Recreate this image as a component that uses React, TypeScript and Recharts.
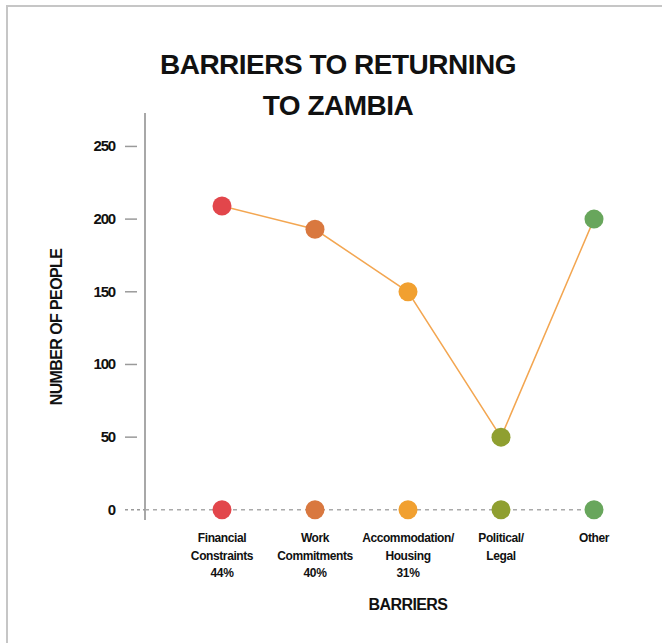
import { LineChart, Line, XAxis, YAxis, ReferenceLine } from "recharts";

const categories = ["Financial", "Work", "Accommodation/", "Political/", "Other"];
const subLabels = ["Constraints", "Commitments", "Housing", "Legal", ""];
const shares = ["44%", "40%", "31%", "", ""];
const people = [209, 193, 150, 50, 200];
const baseline = [0, 0, 0, 0, 0];
const dotColors = ["#e2464b", "#d9783f", "#f1a030", "#8f9f30", "#68a65c"];
const yTicks = [0, 50, 100, 150, 200, 250];

const data = categories.map((c, i) => ({
  name: c,
  people: people[i],
  base: baseline[i],
}));

const font = "'Liberation Sans', Arial, sans-serif";

function ColorDot(props: any) {
  const { cx, cy, index } = props;
  if (cx == null || cy == null) return null;
  return <circle key={index} cx={cx} cy={cy} r={9.5} fill={dotColors[index]} />;
}

function YTick(props: any) {
  const { x, y, payload } = props;
  const isZero = payload.value === 0;
  return (
    <g>
      <line
        x1={x - 20}
        x2={isZero ? x : x - 8}
        y1={y}
        y2={y}
        stroke="#9a9a9a"
        strokeWidth={1.5}
        strokeDasharray={isZero ? "3 3" : undefined}
      />
      <text
        x={x - 30}
        y={y}
        dy={5}
        textAnchor="end"
        fontFamily={font}
        fontWeight={900}
        fontSize={15}
        letterSpacing={-1.2}
        fill="#111"
      >
        {payload.value}
      </text>
    </g>
  );
}

function XTick(props: any) {
  const { x, y, index } = props;
  const lines = [categories[index], subLabels[index], shares[index]].filter(Boolean);
  return (
    <g>
      {lines.map((l, i) => (
        <text
          key={i}
          x={x}
          y={y + 22 + i * 17.5}
          textAnchor="middle"
          fontFamily={font}
          fontWeight={900}
          fontSize={12}
          letterSpacing={-0.4}
          fill="#111"
        >
          {l}
        </text>
      ))}
    </g>
  );
}

export default function App() {
  return (
    <div style={{ position: "absolute", left: 0, top: 0, width: 662, height: 643, background: "#fff" }}>
      <div
        style={{
          position: "absolute",
          left: 6,
          top: 5,
          right: 0,
          bottom: 0,
          borderTop: "2px solid #c6c6c6",
          borderLeft: "2px solid #c6c6c6",
        }}
      />
      <div
        style={{
          position: "absolute",
          left: 0,
          top: 44,
          width: 676,
          textAlign: "center",
          fontFamily: font,
          fontWeight: 900,
          fontSize: 28,
          letterSpacing: -0.5,
          lineHeight: "41px",
          color: "#111",
        }}
      >
        BARRIERS TO RETURNING
        <br />
        TO ZAMBIA
      </div>
      <div
        style={{
          position: "absolute",
          left: 57,
          top: 327,
          transform: "translate(-50%, -50%) rotate(-90deg)",
          whiteSpace: "nowrap",
          fontFamily: font,
          fontWeight: 900,
          fontSize: 16,
          letterSpacing: -0.6,
          color: "#111",
        }}
      >
        NUMBER OF PEOPLE
      </div>
      <div
        style={{
          position: "absolute",
          left: 408,
          top: 605,
          transform: "translate(-50%, -50%)",
          whiteSpace: "nowrap",
          fontFamily: font,
          fontWeight: 900,
          fontSize: 16,
          letterSpacing: -0.6,
          color: "#111",
        }}
      >
        BARRIERS
      </div>
      <LineChart
        width={662}
        height={643}
        data={data}
        margin={{ top: 113, right: 62, left: 85, bottom: 63 }}
        style={{ position: "absolute", left: 0, top: 0 }}
      >
        <XAxis
          dataKey="name"
          height={60}
          axisLine={false}
          tickLine={false}
          interval={0}
          padding={{ left: 77, right: 6 }}
          tick={<XTick />}
          tickSize={0}
          tickMargin={0}
        />
        <YAxis
          width={60}
          domain={[-7, 273]}
          ticks={yTicks}
          axisLine={{ stroke: "#a8a8a8", strokeWidth: 2 }}
          tickLine={false}
          tickSize={0}
          tickMargin={0}
          tick={<YTick />}
        />
        <ReferenceLine y={0} stroke="#aaaaaa" strokeWidth={1.5} strokeDasharray="4 4" />
        <Line
          dataKey="base"
          stroke="none"
          dot={<ColorDot />}
          activeDot={false}
          isAnimationActive={false}
        />
        <Line
          dataKey="people"
          stroke="#f3a651"
          strokeWidth={1.5}
          dot={<ColorDot />}
          activeDot={false}
          isAnimationActive={false}
        />
      </LineChart>
    </div>
  );
}
